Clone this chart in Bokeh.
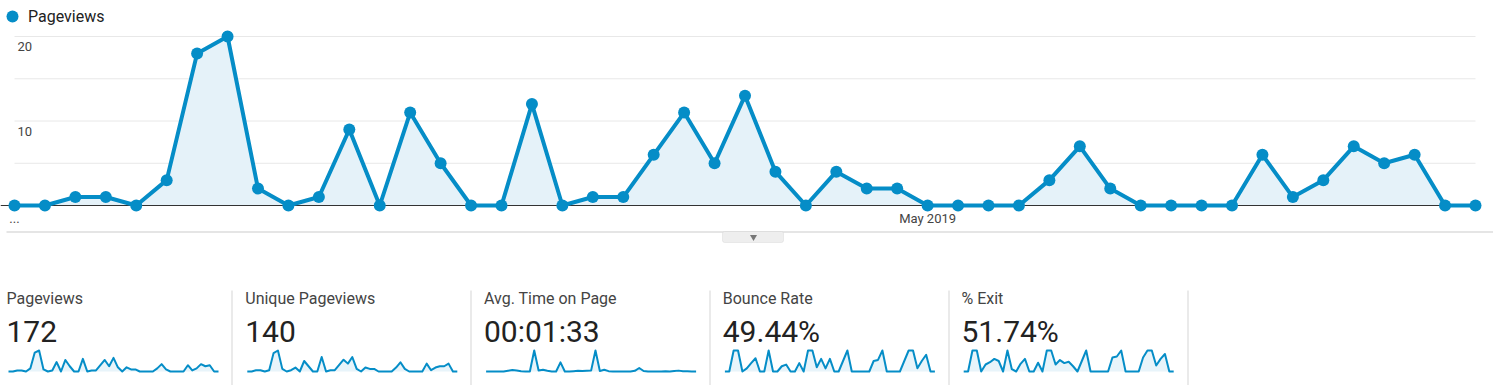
import pandas as pd
from bokeh.plotting import figure
from bokeh.models import Range1d, Legend, LegendItem, BoxAnnotation
from bokeh.embed import file_html
from bokeh.resources import INLINE
from bokeh.core.properties import value

# ---------------- data ----------------
dates = list(pd.date_range("2019-04-01", periods=49).strftime("%Y-%m-%d"))
pageviews = [0, 0, 1, 1, 0, 3, 18, 20, 2, 0, 1, 9, 0, 11, 5, 0, 0, 12, 0, 1,
             1, 6, 11, 5, 13, 4, 0, 4, 2, 2, 0, 0, 0, 0, 3, 7, 2, 0, 0, 0,
             0, 6, 1, 3, 7, 5, 6, 0, 0]
unique_pageviews = [0, 0, 1, 1, 0, 1, 14, 16, 2, 0, 1, 3, 0, 8, 4, 0, 0, 11, 0, 1,
                    1, 5, 9, 6, 11, 2, 0, 3, 2, 2, 0, 0, 0, 0, 3, 7, 2, 0, 0, 0,
                    0, 6, 1, 3, 4, 4, 6, 0, 0]
avg_time_on_page_sec = [0, 0, 0, 0, 0, 20, 40, 30, 10, 0, 0, 600, 30, 50, 20, 0, 0, 260, 0, 0,
                        10, 20, 15, 20, 25, 600, 15, 50, 10, 0, 0, 0, 0, 0, 20, 100, 15, 0, 0, 0,
                        0, 10, 0, 15, 25, 10, 10, 0, 0]
bounce_rate = [0, 0, 100, 100, 0, 15, 40, 63, 0, 0, 100, 0, 0, 25, 33, 0, 0, 40, 0, 100,
               100, 20, 60, 15, 60, 0, 0, 50, 100, 0, 0, 0, 0, 0, 50, 55, 100, 0, 0, 0,
               0, 50, 100, 100, 15, 50, 80, 0, 0]
exit_rate = [0, 0, 100, 100, 0, 33.3, 44.4, 60, 50, 0, 100, 11.1, 0, 36.4, 60, 0, 0, 41.7, 0, 100,
             100, 33.3, 54.5, 40, 46.2, 25, 0, 50, 100, 0, 0, 0, 0, 0, 66.7, 71.4, 100, 0, 0, 0,
             0, 66.7, 100, 100, 28.6, 60, 83.3, 0, 0]

metric_names = ["Pageviews", "Unique Pageviews", "Avg. Time on Page", "Bounce Rate", "% Exit"]
metric_totals = ["172", "140", "00:01:33", "49.44%", "51.74%"]
metric_series = [pageviews, unique_pageviews, avg_time_on_page_sec, bounce_rate, exit_rate]

y_label_ticks = [10, 20]
y_grid_ticks = [5, 10, 15, 20]
x_tick_index = [0, 30]
x_tick_labels = ["...", "May 2019"]

# ---------------- layout helpers ----------------
W, H = 1493, 385
PX_L, PX_R, PX_T, PX_B = 0, W, 0, H
idx = list(range(len(pageviews)))
n = len(idx)

BLUE = "#058dc7"
FILL = "#e5f2f9"
FONT = value("Roboto")


def lin_range(v0, p0, v1, p1, lo, hi):
    s = (v1 - v0) / (p1 - p0)
    return Range1d(start=v0 + (lo - p0) * s, end=v0 + (hi - p0) * s)


p = figure(width=W, height=H, x_range=Range1d(PX_L, PX_R), y_range=Range1d(PX_B, PX_T),
           output_backend="svg", toolbar_location=None, min_border=0,
           x_axis_type=None, y_axis_type=None, outline_line_color=None,
           background_fill_color="white", border_fill_color="white")

# main chart ranges
p.extra_x_ranges["mx"] = lin_range(0, 14, n - 1, 1475, PX_L, PX_R)
p.extra_y_ranges["my"] = lin_range(0, 205, 20, 36, PX_B, PX_T)
M = dict(x_range_name="mx", y_range_name="my")

# gridlines
p.segment(x0=[0] * len(y_grid_ticks), x1=[n - 1] * len(y_grid_ticks), y0=y_grid_ticks,
          y1=y_grid_ticks, line_color="#e8e8e8", line_width=1, **M)

p.varea(x=idx, y1=[0] * n, y2=pageviews, fill_color=FILL, **M)
mx = p.extra_x_ranges["mx"]
p.segment(x0=[mx.start], x1=[n - 1], y0=[0], y1=[0], line_color="#333333", line_width=1, **M)
p.line(idx, pageviews, line_color=BLUE, line_width=4, line_join="round", **M)
sc = p.scatter(idx, pageviews, size=12, fill_color=BLUE, line_color=None, **M)

# y labels inside plot
p.text(x=[0] * len(y_label_ticks), y=y_label_ticks, text=[str(t) for t in y_label_ticks],
       x_offset=3, y_offset=10, text_baseline="middle", text_align="left",
       text_font=FONT, text_font_size="13px", text_color="#444444", **M)
# x labels
p.text(x=x_tick_index, y=[0] * len(x_tick_index), text=x_tick_labels,
       y_offset=13, text_baseline="middle", text_align="center",
       text_font=FONT, text_font_size="13px", text_color="#444444", **M)

legend = Legend(items=[LegendItem(label="Pageviews", renderers=[sc])],
                location=(-3, 354), glyph_width=30, glyph_height=30,
                label_text_font="Roboto", label_text_font_size="16px",
                label_text_color="#222222", border_line_color=None,
                background_fill_alpha=0, padding=0, spacing=0, margin=0,
                label_standoff=1)
p.add_layout(legend)

# divider line and collapse button
p.add_layout(BoxAnnotation(top=231, bottom=232, left=6, fill_color="#cccccc", fill_alpha=1,
                           line_color=None, level="underlay"))
p.add_layout(BoxAnnotation(left=722, right=783, top=231, bottom=242, fill_color="#eeeeee",
                           fill_alpha=1, line_color="#c6c6c6", border_radius=2,
                           level="underlay"))
p.scatter(x=[753], y=[236.5], marker="inverted_triangle", size=7,
          fill_color="#777777", line_color=None)

# ---------------- scorecards ----------------
lefts = [6 + 238.75 * i for i in range(len(metric_names))]
p.text(x=lefts, y=[298] * len(lefts), text=metric_names, text_font=FONT,
       text_font_size="16px", text_color="#444444", text_baseline="middle")
p.text(x=lefts, y=[330.5] * len(lefts), text=metric_totals, text_font=FONT,
       text_font_size="30px", text_color="#222222", text_baseline="middle")

for i, series in enumerate(metric_series):
    sep = 231 + 239 * i
    p.add_layout(BoxAnnotation(left=sep, right=sep + 1, top=290, fill_color="#d5d5d5",
                               fill_alpha=1, line_color=None))
    x0 = 8 + 238.8 * i
    p.extra_x_ranges[f"sx{i}"] = lin_range(0, x0, n - 1, x0 + 210, PX_L, PX_R)
    p.extra_y_ranges[f"sy{i}"] = lin_range(0, 371, max(series), 350, PX_B, PX_T)
    S = dict(x_range_name=f"sx{i}", y_range_name=f"sy{i}")
    p.varea(x=idx, y1=[0] * n, y2=series, fill_color="#e8f4fa", **S)
    p.line(idx, series, line_color=BLUE, line_width=2, line_join="round", **S)

open("out.html", "w").write(file_html(p, INLINE))
